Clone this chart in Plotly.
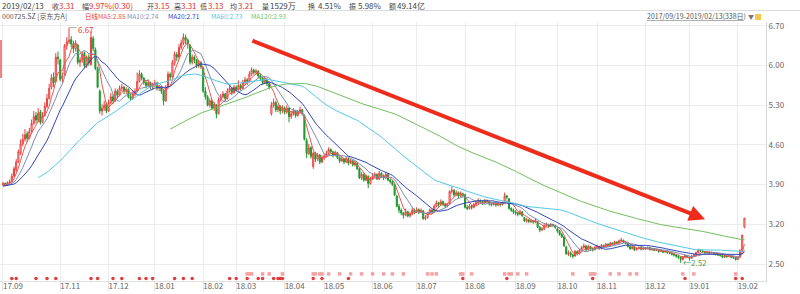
import plotly.graph_objects as go
import pandas as pd

# ---------------- data ----------------
# closes before the visible window (only used for the moving averages)
pre_closes = [3.78, 3.82, 3.80, 3.75, 3.72, 3.76, 3.80, 3.85, 3.83, 3.79,
              3.74, 3.70, 3.73, 3.78, 3.82, 3.86, 3.84, 3.80, 3.77, 3.81,
              3.85, 3.88, 3.86, 3.82, 3.79, 3.83, 3.87, 3.90, 3.88, 3.85,
              3.82, 3.86, 3.89, 3.92, 3.90, 3.87, 3.85, 3.88, 3.91, 3.89,
              3.86, 3.88, 3.90]

# daily candles (open, high, low, close) per month
sep17 = [(3.90, 3.95, 3.88, 3.92), (3.92, 3.94, 3.87, 3.90), (3.90, 3.96, 3.89, 3.93), (3.93, 3.99, 3.91, 3.95),
         (3.95, 4.10, 3.94, 4.05), (4.05, 4.22, 4.03, 4.18), (4.16, 4.35, 4.12, 4.30), (4.30, 4.52, 4.28, 4.48),
         (4.46, 4.70, 4.42, 4.62)]
oct17 = [(4.62, 4.80, 4.58, 4.70), (4.70, 4.88, 4.66, 4.78), (4.80, 4.84, 4.65, 4.72), (4.72, 4.90, 4.70, 4.84),
         (4.85, 5.05, 4.82, 4.98), (4.98, 5.20, 4.95, 5.10), (5.12, 5.18, 4.98, 5.04), (5.04, 5.25, 5.00, 5.16),
         (5.18, 5.22, 4.96, 5.00), (5.00, 5.18, 4.98, 5.12), (5.12, 5.35, 5.10, 5.28), (5.28, 5.50, 5.25, 5.42),
         (5.42, 5.68, 5.40, 5.60), (5.62, 5.85, 5.58, 5.78), (5.80, 5.88, 5.62, 5.70), (5.72, 6.22, 5.70, 6.15),
         (6.15, 6.25, 6.02, 6.12)]
nov17 = [(6.10, 6.12, 5.72, 5.76), (5.76, 5.88, 5.70, 5.82), (5.85, 6.38, 5.82, 6.35), (6.35, 6.50, 6.28, 6.42),
         (6.42, 6.67, 6.38, 6.45), (6.46, 6.52, 6.32, 6.38), (6.38, 6.44, 6.22, 6.30), (6.30, 6.45, 6.25, 6.40),
         (6.36, 6.38, 6.02, 6.06), (6.06, 6.15, 5.98, 6.10), (6.10, 6.25, 6.05, 6.20), (6.22, 6.25, 5.95, 6.00),
         (6.00, 6.18, 5.96, 6.15), (6.15, 6.20, 6.00, 6.05), (6.02, 6.60, 6.00, 6.50), (6.48, 6.52, 6.25, 6.30),
         (6.28, 6.32, 5.92, 5.95), (5.95, 5.98, 5.60, 5.62), (5.55, 5.58, 5.15, 5.20), (5.20, 5.32, 5.12, 5.25),
         (5.25, 5.38, 5.20, 5.30), (5.32, 5.35, 5.16, 5.20)]
dec17 = [(5.20, 5.40, 5.18, 5.35), (5.35, 5.52, 5.32, 5.45), (5.45, 5.50, 5.32, 5.38), (5.38, 5.60, 5.36, 5.55),
         (5.55, 5.58, 5.42, 5.48), (5.48, 5.65, 5.46, 5.60), (5.60, 5.68, 5.55, 5.62), (5.62, 5.64, 5.50, 5.55),
         (5.55, 5.62, 5.50, 5.58), (5.58, 5.60, 5.42, 5.45), (5.45, 5.50, 5.38, 5.42), (5.42, 5.55, 5.40, 5.50),
         (5.50, 5.60, 5.46, 5.55), (5.55, 5.88, 5.54, 5.72), (5.72, 5.92, 5.70, 5.85), (5.85, 5.88, 5.74, 5.78),
         (5.78, 5.80, 5.66, 5.70), (5.70, 5.74, 5.60, 5.65), (5.65, 5.76, 5.62, 5.70), (5.70, 5.72, 5.58, 5.62),
         (5.62, 5.70, 5.58, 5.66)]
jan18 = [(5.66, 5.75, 5.62, 5.68), (5.68, 5.72, 5.56, 5.60), (5.60, 5.66, 5.55, 5.62), (5.62, 5.64, 5.50, 5.55),
         (5.55, 5.58, 5.30, 5.38), (5.38, 5.66, 5.36, 5.62), (5.62, 5.90, 5.60, 5.85), (5.85, 5.88, 5.74, 5.80),
         (5.80, 6.10, 5.78, 6.05), (6.05, 6.25, 6.00, 6.20), (6.20, 6.24, 6.08, 6.15), (6.15, 6.38, 6.12, 6.32),
         (6.32, 6.46, 6.28, 6.40), (6.40, 6.57, 6.36, 6.50), (6.50, 6.55, 6.38, 6.45), (6.45, 6.48, 6.30, 6.38),
         (6.36, 6.38, 6.02, 6.06), (6.06, 6.20, 6.02, 6.15), (6.15, 6.18, 6.04, 6.10), (6.10, 6.12, 5.96, 6.00),
         (6.00, 6.10, 5.96, 6.05), (6.05, 6.08, 5.94, 5.98)]
feb18 = [(5.96, 5.98, 5.52, 5.55), (5.55, 5.62, 5.40, 5.45), (5.45, 5.48, 5.28, 5.30), (5.30, 5.42, 5.26, 5.38),
         (5.38, 5.40, 5.22, 5.25), (5.25, 5.36, 5.20, 5.32), (5.30, 5.32, 5.07, 5.15), (5.15, 5.44, 5.14, 5.40),
         (5.40, 5.50, 5.36, 5.45), (5.45, 5.55, 5.42, 5.50), (5.50, 5.52, 5.38, 5.42), (5.42, 5.60, 5.40, 5.55),
         (5.55, 5.66, 5.52, 5.60), (5.60, 5.62, 5.48, 5.52), (5.52, 5.66, 5.50, 5.62)]
mar18 = [(5.62, 5.65, 5.54, 5.58), (5.58, 5.74, 5.56, 5.65), (5.65, 5.68, 5.56, 5.60), (5.60, 5.75, 5.58, 5.70),
         (5.70, 5.80, 5.66, 5.75), (5.75, 5.78, 5.66, 5.72), (5.72, 5.90, 5.70, 5.85), (5.85, 5.97, 5.82, 5.92),
         (5.92, 5.95, 5.84, 5.88), (5.88, 5.94, 5.84, 5.90), (5.90, 5.92, 5.78, 5.82), (5.82, 5.86, 5.74, 5.78),
         (5.78, 5.80, 5.66, 5.70), (5.70, 5.80, 5.68, 5.75), (5.75, 5.78, 5.64, 5.68), (5.68, 5.72, 5.58, 5.62),
         (5.15, 5.36, 5.12, 5.30), (5.30, 5.42, 5.26, 5.35), (5.35, 5.38, 5.18, 5.22), (5.22, 5.32, 5.18, 5.28),
         (5.28, 5.30, 5.14, 5.20), (5.20, 5.30, 5.16, 5.25)]
apr18 = [(5.25, 5.28, 5.14, 5.18), (5.18, 5.30, 5.15, 5.25), (5.25, 5.26, 5.00, 5.10), (5.10, 5.20, 5.06, 5.15),
         (5.15, 5.25, 5.12, 5.20), (5.20, 5.22, 5.08, 5.12), (5.12, 5.22, 5.10, 5.18), (5.18, 5.28, 5.15, 5.22),
         (5.22, 5.24, 5.12, 5.15), (5.12, 5.14, 4.68, 4.70), (4.68, 4.72, 4.37, 4.45), (4.45, 4.62, 4.42, 4.55),
         (4.55, 4.58, 4.36, 4.40), (4.22, 4.48, 4.18, 4.45), (4.45, 4.48, 4.30, 4.35), (4.35, 4.46, 4.32, 4.42),
         (4.42, 4.44, 4.26, 4.30), (4.30, 4.42, 4.28, 4.38)]
may18 = [(4.38, 4.44, 4.34, 4.40), (4.40, 4.50, 4.38, 4.45), (4.45, 4.56, 4.42, 4.52), (4.52, 4.54, 4.44, 4.48),
         (4.48, 4.50, 4.38, 4.42), (4.42, 4.50, 4.40, 4.46), (4.46, 4.48, 4.35, 4.38), (4.38, 4.40, 4.28, 4.32),
         (4.32, 4.40, 4.30, 4.35), (4.35, 4.37, 4.26, 4.30), (4.30, 4.40, 4.28, 4.36), (4.36, 4.38, 4.24, 4.28),
         (4.28, 4.36, 4.26, 4.32), (4.32, 4.34, 4.22, 4.25), (4.25, 4.32, 4.22, 4.28), (4.28, 4.30, 4.16, 4.18),
         (4.18, 4.20, 4.00, 4.02), (4.02, 4.12, 3.98, 4.08), (4.08, 4.10, 3.95, 3.98), (3.98, 4.08, 3.96, 4.05),
         (4.05, 4.06, 3.84, 3.92), (3.92, 4.04, 3.90, 4.00)]
jun18 = [(4.00, 4.10, 3.98, 4.05), (4.05, 4.12, 4.02, 4.08), (4.08, 4.10, 3.98, 4.00), (4.00, 4.14, 3.98, 4.10),
         (4.10, 4.12, 4.02, 4.05), (4.05, 4.08, 3.98, 4.02), (4.02, 4.12, 4.00, 4.08), (4.08, 4.10, 3.96, 3.98),
         (3.98, 4.00, 3.92, 3.95), (3.95, 3.98, 3.88, 3.90), (3.90, 3.92, 3.70, 3.72), (3.70, 3.72, 3.50, 3.52),
         (3.52, 3.56, 3.40, 3.45), (3.45, 3.48, 3.36, 3.40), (3.40, 3.42, 3.30, 3.36), (3.36, 3.48, 3.34, 3.42),
         (3.42, 3.44, 3.32, 3.35), (3.35, 3.42, 3.32, 3.38), (3.38, 3.50, 3.36, 3.45), (3.45, 3.48, 3.38, 3.42)]
jul18 = [(3.42, 3.50, 3.40, 3.46), (3.46, 3.48, 3.38, 3.42), (3.42, 3.48, 3.40, 3.44), (3.44, 3.45, 3.28, 3.30),
         (3.30, 3.36, 3.27, 3.32), (3.32, 3.42, 3.30, 3.40), (3.40, 3.48, 3.38, 3.45), (3.45, 3.47, 3.38, 3.42),
         (3.42, 3.55, 3.40, 3.52), (3.52, 3.62, 3.50, 3.58), (3.58, 3.60, 3.50, 3.55), (3.55, 3.64, 3.53, 3.60),
         (3.60, 3.62, 3.52, 3.55), (3.55, 3.58, 3.49, 3.52), (3.52, 3.58, 3.50, 3.56), (3.56, 3.80, 3.55, 3.78),
         (3.78, 3.87, 3.74, 3.80), (3.80, 3.82, 3.68, 3.72), (3.72, 3.80, 3.70, 3.76), (3.76, 3.78, 3.66, 3.70),
         (3.70, 3.78, 3.68, 3.74), (3.74, 3.76, 3.68, 3.72)]
aug18 = [(3.72, 3.74, 3.48, 3.50), (3.50, 3.54, 3.45, 3.48), (3.48, 3.56, 3.46, 3.52), (3.52, 3.54, 3.46, 3.50),
         (3.50, 3.58, 3.48, 3.55), (3.55, 3.62, 3.53, 3.58), (3.58, 3.66, 3.56, 3.62), (3.62, 3.64, 3.56, 3.60),
         (3.60, 3.62, 3.54, 3.58), (3.58, 3.65, 3.56, 3.62), (3.62, 3.64, 3.57, 3.60), (3.60, 3.61, 3.53, 3.56),
         (3.56, 3.58, 3.52, 3.55), (3.55, 3.60, 3.53, 3.58), (3.58, 3.59, 3.51, 3.54), (3.54, 3.58, 3.52, 3.56),
         (3.56, 3.57, 3.51, 3.55), (3.55, 3.60, 3.53, 3.58), (3.58, 3.76, 3.57, 3.70), (3.70, 3.72, 3.64, 3.68),
         (3.65, 3.66, 3.46, 3.48), (3.48, 3.50, 3.42, 3.45), (3.45, 3.48, 3.38, 3.42)]
sep18 = [(3.42, 3.45, 3.36, 3.40), (3.40, 3.42, 3.34, 3.38), (3.38, 3.46, 3.36, 3.42), (3.42, 3.44, 3.33, 3.35),
         (3.32, 3.33, 3.24, 3.26), (3.26, 3.31, 3.23, 3.28), (3.28, 3.29, 3.22, 3.25), (3.25, 3.29, 3.22, 3.26),
         (3.26, 3.27, 3.21, 3.24), (3.24, 3.30, 3.22, 3.27), (3.25, 3.26, 3.13, 3.15), (3.15, 3.17, 3.06, 3.10),
         (3.10, 3.15, 3.08, 3.12), (3.12, 3.20, 3.10, 3.18), (3.18, 3.23, 3.16, 3.20), (3.20, 3.21, 3.14, 3.17),
         (3.17, 3.22, 3.15, 3.20), (3.20, 3.21, 3.15, 3.18), (3.18, 3.19, 3.12, 3.15)]
oct18 = [(3.12, 3.14, 3.05, 3.08), (3.08, 3.10, 3.00, 3.02), (3.02, 3.05, 2.96, 2.98), (2.98, 2.99, 2.80, 2.82),
         (2.80, 2.82, 2.66, 2.68), (2.68, 2.74, 2.64, 2.70), (2.70, 2.72, 2.62, 2.66), (2.66, 2.68, 2.60, 2.64),
         (2.64, 2.75, 2.63, 2.72), (2.72, 2.74, 2.65, 2.68), (2.68, 2.77, 2.67, 2.74), (2.74, 2.82, 2.72, 2.79),
         (2.79, 2.86, 2.77, 2.82), (2.82, 2.83, 2.73, 2.75), (2.75, 2.84, 2.74, 2.81), (2.81, 2.82, 2.75, 2.77),
         (2.77, 2.79, 2.72, 2.75), (2.75, 2.82, 2.74, 2.79)]
nov18 = [(2.79, 2.84, 2.77, 2.81), (2.81, 2.82, 2.75, 2.77), (2.77, 2.85, 2.76, 2.83), (2.83, 2.84, 2.79, 2.81),
         (2.81, 2.87, 2.80, 2.85), (2.85, 2.86, 2.80, 2.82), (2.82, 2.89, 2.81, 2.87), (2.87, 2.88, 2.83, 2.85),
         (2.85, 2.91, 2.84, 2.89), (2.89, 2.90, 2.85, 2.87), (2.87, 2.93, 2.86, 2.91), (2.91, 2.96, 2.89, 2.92),
         (2.92, 2.93, 2.87, 2.89), (2.89, 2.90, 2.85, 2.87), (2.87, 2.88, 2.79, 2.81), (2.81, 2.82, 2.75, 2.77),
         (2.77, 2.82, 2.76, 2.80), (2.80, 2.81, 2.73, 2.75), (2.75, 2.79, 2.74, 2.77), (2.77, 2.81, 2.76, 2.79),
         (2.79, 2.80, 2.74, 2.76), (2.76, 2.80, 2.75, 2.78)]
dec18 = [(2.78, 2.80, 2.75, 2.77), (2.77, 2.81, 2.76, 2.79), (2.79, 2.80, 2.74, 2.75), (2.75, 2.79, 2.74, 2.77),
         (2.77, 2.78, 2.73, 2.74), (2.74, 2.77, 2.73, 2.75), (2.75, 2.76, 2.70, 2.72), (2.72, 2.75, 2.71, 2.73),
         (2.73, 2.74, 2.69, 2.71), (2.71, 2.75, 2.70, 2.73), (2.73, 2.74, 2.68, 2.70), (2.70, 2.71, 2.67, 2.69),
         (2.69, 2.70, 2.65, 2.67), (2.67, 2.68, 2.63, 2.66), (2.66, 2.67, 2.61, 2.64), (2.64, 2.65, 2.59, 2.62),
         (2.62, 2.63, 2.52, 2.58), (2.58, 2.64, 2.56, 2.62), (2.62, 2.67, 2.60, 2.65), (2.65, 2.66, 2.61, 2.63)]
jan19 = [(2.62, 2.63, 2.56, 2.60), (2.60, 2.66, 2.59, 2.64), (2.64, 2.68, 2.62, 2.66), (2.66, 2.72, 2.65, 2.70),
         (2.70, 2.77, 2.69, 2.74), (2.74, 2.76, 2.71, 2.73), (2.73, 2.75, 2.70, 2.72), (2.72, 2.73, 2.68, 2.70),
         (2.70, 2.73, 2.69, 2.71), (2.71, 2.72, 2.67, 2.69), (2.69, 2.72, 2.68, 2.70), (2.70, 2.71, 2.66, 2.68),
         (2.68, 2.70, 2.65, 2.67), (2.67, 2.69, 2.64, 2.66), (2.66, 2.68, 2.63, 2.65), (2.65, 2.66, 2.60, 2.62),
         (2.62, 2.66, 2.61, 2.64), (2.64, 2.65, 2.61, 2.63), (2.63, 2.67, 2.62, 2.65), (2.65, 2.66, 2.60, 2.62),
         (2.62, 2.63, 2.59, 2.61), (2.61, 2.62, 2.56, 2.58)]
feb19 = [(2.58, 2.63, 2.57, 2.61), (2.62, 2.76, 2.61, 2.74), (2.74, 3.01, 2.73, 3.01), (3.15, 3.31, 3.13, 3.31)]

# exchange holidays falling on weekdays inside the window
holidays = ["2017-10-02", "2017-10-03", "2017-10-04", "2017-10-05", "2017-10-06",
            "2018-01-01", "2018-02-15", "2018-02-16", "2018-02-19", "2018-02-20", "2018-02-21",
            "2018-04-05", "2018-04-06", "2018-04-30", "2018-05-01", "2018-06-18", "2018-09-24",
            "2018-10-01", "2018-10-02", "2018-10-03", "2018-10-04", "2018-10-05", "2018-12-31",
            "2019-01-01", "2019-02-04", "2019-02-05", "2019-02-06", "2019-02-07", "2019-02-08"]

# event markers along the bottom (trading-day index)
event_dots = [4, 6, 15, 20, 24, 40, 43, 50, 54, 62, 65, 68, 78, 82, 86, 103, 106, 111, 116, 118,
              123, 125, 126, 127, 141, 145, 157, 209, 229, 268, 310, 333, 336]
event_flags = [111, 112, 113, 118, 121, 127, 141, 142, 144, 145, 148, 153, 158, 163, 168, 173, 177,
               182, 193, 195, 197, 208, 209, 213, 228, 230, 231, 234, 238, 259, 267, 268, 269, 276,
               280, 285, 288, 309, 314, 333]

y_ticks = [2.50, 3.20, 3.90, 4.60, 5.30, 6.00, 6.70]
ma_periods = [5, 10, 20, 60, 120]
ma_colors = ["#e8594f", "#7f8db5", "#3346b8", "#52c8e6", "#72bf5e"]
high_mark = (30, 6.67)
low_mark = (308, 2.52)

# ---------------- build ----------------
rows = sep17 + oct17 + nov17 + dec17 + jan18 + feb18 + mar18 + apr18 + may18 + jun18 + \
    jul18 + aug18 + sep18 + oct18 + nov18 + dec18 + jan19 + feb19
opens = [r[0] for r in rows]
highs = [r[1] for r in rows]
lows = [r[2] for r in rows]
closes = [r[3] for r in rows]
n = len(rows)
idx = list(range(n))

dates = pd.bdate_range("2017-09-19", "2019-02-13")
dates = dates[~dates.isin(pd.to_datetime(holidays))][:n]
tickvals, ticktext = [0], ["17.09"]
for i in range(1, n):
    if dates[i].month != dates[i - 1].month and not (dates[i].year == 2017 and dates[i].month == 10):
        tickvals.append(i)
        ticktext.append(dates[i].strftime("%y.%m"))

all_close = pd.Series(pre_closes + closes)

fig = go.Figure()
fig.add_trace(go.Candlestick(
    x=idx, open=opens, high=highs, low=lows, close=closes,
    increasing=dict(line=dict(color="#ee3b3b", width=1), fillcolor="#ffffff"),
    decreasing=dict(line=dict(color="#1d9a2c", width=1), fillcolor="#1d9a2c"),
    whiskerwidth=0, showlegend=False, hoverinfo="skip"))

for p, col in zip(ma_periods, ma_colors):
    ma = all_close.rolling(p).mean().iloc[len(pre_closes):].tolist()
    fig.add_trace(go.Scatter(x=idx, y=ma, mode="lines", line=dict(color=col, width=1),
                             showlegend=False, hoverinfo="skip"))

fig.add_trace(go.Scatter(x=event_flags, y=[2.325] * len(event_flags), mode="markers",
                         marker=dict(symbol="square", size=3.5, color="#f3a3a3"),
                         showlegend=False, hoverinfo="skip"))
fig.add_trace(go.Scatter(x=event_dots, y=[2.245] * len(event_dots), mode="markers",
                         marker=dict(symbol="circle", size=3.5, color="#e23a3a"),
                         showlegend=False, hoverinfo="skip"))

W, H = 800, 294
L, R, T, B = 0, 34, 22, 13
PW, PH = W - L - R, H - T - B


def px(x):
    return (x - L) / PW


def py(y):
    return (H - B - y) / PH


FONT = "Noto Sans CJK SC, Noto Sans, sans-serif"
ann = []


def txt(x, y, s, color="#444", size=9):
    ann.append(dict(x=px(x), y=py(y), xref="paper", yref="paper", text=s, showarrow=False,
                    xanchor="left", yanchor="middle", borderpad=0,
                    font=dict(family=FONT, size=size, color=color)))


RED = "#e8322c"
GREY = "#444"
row1_labels = [(1, "2019/02/13", 8), (50.5, "收", 7), (81, "幅", 7), (146, "开", 7), (172.5, "高", 7),
               (199, "低", 7), (229, "均", 7), (261, "量", 7), (307, "换", 7), (348, "振", 7),
               (388, "额", 7)]
row1_values = [(58, "3.31", RED), (88, "9.97%(0.30)", RED), (153, "3.15", RED), (180, "3.31", RED),
               (207, "3.13", RED), (237, "3.21", RED), (269, "1529万", GREY), (317, "4.51%", GREY),
               (357, "5.98%", GREY), (396, "49.14亿", GREY)]
for x, s, sz in row1_labels:
    txt(x, 6, s, GREY, sz)
for x, s, c in row1_values:
    txt(x, 6, s, c, 8)

row2 = [(0.5, "000725.SZ [京东方A]", "#555", 7), (84, "日线", RED, 6.5), (97, "MA5:2.85", ma_colors[0], 6.6),
        (126, "MA10:2.74", ma_colors[1], 6.6), (167, "MA20:2.71", ma_colors[2], 6.6),
        (210, "MA60:2.73", ma_colors[3], 6.6), (250, "MA120:2.93", ma_colors[4], 6.6)]
for x, s, c, sz in row2:
    txt(x, 16, s, c, sz)

txt(646, 16, "2017/09/19-2019/02/13(338日)", "#555", 7)
txt(747, 16, "▼", "#777", 6)

# high / low marks
ann.append(dict(x=high_mark[0] + 3.7, y=high_mark[1], xref="x", yref="y", text="6.67", showarrow=False,
                xanchor="left", yanchor="middle", borderpad=0, yshift=-2,
                font=dict(family=FONT, size=8, color=RED)))
ann.append(dict(x=low_mark[0], y=low_mark[1], xref="x", yref="y", text="←2.52", showarrow=False,
                xanchor="left", yanchor="middle", xshift=1, borderpad=0,
                font=dict(family=FONT, size=8, color="#4f9a4f")))

# trend arrow
ann.append(dict(x=319.1, y=3.29, xref="x", yref="y", ax=112.7, ay=6.45, axref="x", ayref="y",
                text="", showarrow=True, arrowhead=2, arrowsize=0.8, arrowwidth=4,
                arrowcolor="#ee2c1c"))

shapes = [
    dict(type="line", xref="paper", yref="paper", x0=0, x1=W / PW, y0=py(10.5), y1=py(10.5),
         line=dict(color="#dcdcdc", width=1)),
    dict(type="line", xref="paper", yref="paper", x0=px(647), x1=px(744), y0=py(20.5), y1=py(20.5),
         line=dict(color="#777", width=0.6)),
    dict(type="rect", xref="paper", yref="paper", x0=px(755), x1=px(761), y0=py(20), y1=py(14),
         fillcolor="#f2c94c", line=dict(width=0)),
    dict(type="line", xref="paper", yref="paper", x0=px(1), x1=px(1), y0=py(40), y1=py(78),
         line=dict(color="#e85a5a", width=1.5)),
    dict(type="line", xref="x", yref="y", x0=high_mark[0], x1=high_mark[0] + 3.5,
         y0=high_mark[1], y1=high_mark[1], line=dict(color="#999", width=0.8)),
]

fig.update_layout(
    width=W, height=H, margin=dict(l=L, r=R, t=T, b=B),
    paper_bgcolor="white", plot_bgcolor="white",
    annotations=ann, shapes=shapes,
    font=dict(family=FONT, size=8, color="#555"),
    xaxis=dict(range=[-1.36, 346.8], tickvals=tickvals, ticktext=ticktext,
               showgrid=True, gridcolor="#ececec", gridwidth=1, zeroline=False,
               showline=True, linecolor="#e0e0e0", ticks="outside", ticklen=9,
               tickcolor="#e3e3e3", ticklabelshift=10, ticklabelstandoff=-12,
               tickfont=dict(size=8, color="#666"), rangeslider=dict(visible=False),
               fixedrange=True),
    yaxis=dict(range=[2.2, 6.77], side="right", tickvals=y_ticks,
               ticktext=[f"{v:.2f}" for v in y_ticks], showgrid=True, gridcolor="#ececec",
               zeroline=False, showline=True, linecolor="#d6d6d6", ticks="",
               tickfont=dict(size=8, color="#666"), fixedrange=True),
)

fig.write_html("out.html")
